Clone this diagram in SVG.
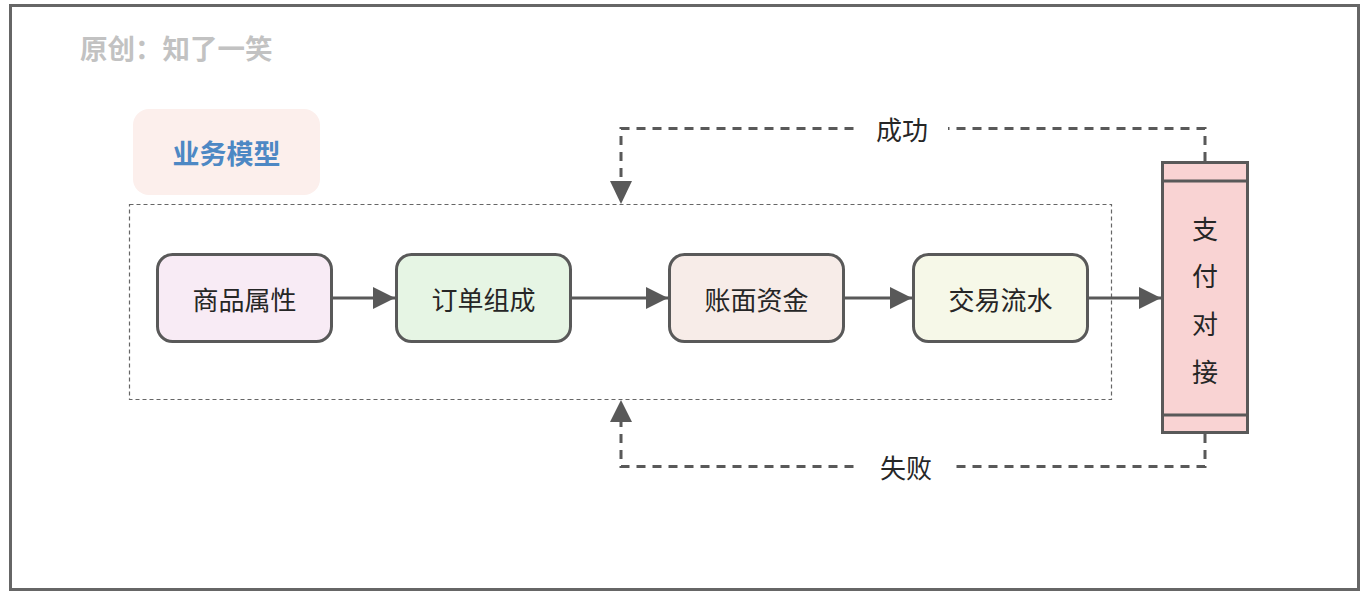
<svg xmlns="http://www.w3.org/2000/svg" width="1370" height="596" viewBox="0 0 1370 596">
<style>
text{font-family:"Noto Sans CJK SC","Noto Sans",sans-serif;}
.node{stroke:#595959;stroke-width:3;}
.lbl{font-size:26px;fill:#262626;text-anchor:middle;dominant-baseline:central;}
.flow{stroke:#595959;stroke-width:3;fill:none;}
.dash{stroke:#595959;stroke-width:3;fill:none;stroke-dasharray:9 7;}
</style>
<defs>
<marker id="ah" viewBox="0 0 10 10" refX="10" refY="5" markerWidth="7.5" markerHeight="7.5" markerUnits="strokeWidth" orient="auto">
<path d="M0,0 L10,5 L0,10 z" fill="#595959"/>
</marker>
</defs>
<rect x="0" y="0" width="1370" height="596" fill="#fff"/>
<rect x="10.5" y="5.5" width="1348" height="584" fill="#fff" stroke="#666" stroke-width="3"/>
<text x="80" y="47" font-size="27.5" font-weight="bold" fill="#c2c2c2" dominant-baseline="central">原创：知了一笑</text>
<g id="title">
<rect x="133" y="109" width="187" height="86" rx="16" fill="#fcefec"/>
<text x="226.5" y="152" font-size="27" font-weight="bold" fill="#4d88c4" text-anchor="middle" dominant-baseline="central">业务模型</text>
</g>
<g id="container">
<rect x="129.5" y="204.5" width="982" height="195" fill="none" stroke="#666" stroke-width="1.2" stroke-dasharray="4 3"/>
</g>
<g id="n1"><rect class="node" x="157.5" y="254.5" width="174" height="87" rx="15" fill="#f8ebf5"/><text class="lbl" x="244.5" y="298">商品属性</text></g>
<g id="n2"><rect class="node" x="396.5" y="254.5" width="174" height="87" rx="15" fill="#e6f5e4"/><text class="lbl" x="483.5" y="298">订单组成</text></g>
<g id="n3"><rect class="node" x="669.5" y="254.5" width="174" height="87" rx="15" fill="#f7ece8"/><text class="lbl" x="756.5" y="298">账面资金</text></g>
<g id="n4"><rect class="node" x="913.5" y="254.5" width="174" height="87" rx="15" fill="#f6f8e8"/><text class="lbl" x="1000.5" y="298">交易流水</text></g>
<g id="pay">
<rect class="node" x="1162.5" y="162.5" width="85" height="270" fill="#f9d3d3"/>
<line x1="1162.5" y1="181" x2="1247.5" y2="181" class="node"/>
<line x1="1162.5" y1="415" x2="1247.5" y2="415" class="node"/>
<text class="lbl" x="1205" y="227">支</text>
<text class="lbl" x="1205" y="274">付</text>
<text class="lbl" x="1205" y="322">对</text>
<text class="lbl" x="1205" y="370">接</text>
</g>
<g id="connectors">
<line class="flow" x1="333" y1="298" x2="395" y2="298" marker-end="url(#ah)"/>
<line class="flow" x1="572" y1="298" x2="668" y2="298" marker-end="url(#ah)"/>
<line class="flow" x1="845" y1="298" x2="912" y2="298" marker-end="url(#ah)"/>
<line class="flow" x1="1089" y1="298" x2="1161" y2="298" marker-end="url(#ah)"/>
<path class="dash" d="M1205,161 L1205,128.5 L621,128.5 L621,187"/>
<path d="M610,181 L632,181 L621,204 z" fill="#595959"/>
<path class="dash" d="M1205,434 L1205,466.5 L621,466.5 L621,418"/>
<path d="M610,422 L632,422 L621,400 z" fill="#595959"/>
<rect x="856" y="112" width="92" height="32" fill="#fff"/>
<text class="lbl" x="902" y="128">成功</text>
<rect x="860" y="450" width="90" height="32" fill="#fff"/>
<text class="lbl" x="906" y="466">失败</text>
</g>
</svg>
